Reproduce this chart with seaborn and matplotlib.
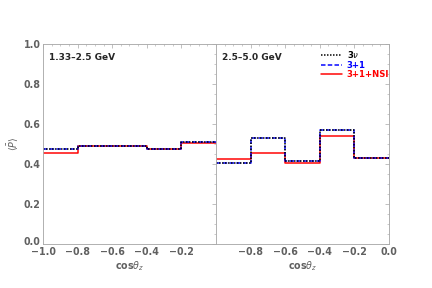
import numpy as np
import pandas as pd
import matplotlib
matplotlib.use("Agg")
import matplotlib.pyplot as plt
import matplotlib.transforms as mtransforms
import seaborn as sns
from matplotlib.ticker import MultipleLocator

edges = [-1.0, -0.8, -0.6, -0.4, -0.2, 0.0]
low_3nu = [0.475, 0.488, 0.488, 0.477, 0.512]
low_31 = [0.475, 0.488, 0.488, 0.477, 0.512]
low_nsi = [0.457, 0.490, 0.489, 0.474, 0.506]
high_3nu = [0.405, 0.528, 0.417, 0.572, 0.428]
high_31 = [0.405, 0.528, 0.417, 0.572, 0.428]
high_nsi = [0.423, 0.457, 0.403, 0.540, 0.428]
panel_titles = ["1.33\u20132.5 GeV", "2.5\u20135.0 GeV"]
series_names = ["3$\\nu$", "3+1", "3+1+NSI"]
yticks = [0.0, 0.2, 0.4, 0.6, 0.8, 1.0]
ytick_labels = ["0.0", "0.2", "0.4", "0.6", "0.8", "1.0"]
xticks_left = [-1.0, -0.8, -0.6, -0.4, -0.2]
xtick_labels_left = ["\u22121.0", "\u22120.8", "\u22120.6", "\u22120.4", "\u22120.2"]
xticks_right = [-0.8, -0.6, -0.4, -0.2, 0.0]
xtick_labels_right = ["\u22120.8", "\u22120.6", "\u22120.4", "\u22120.2", "0.0"]

sns.set_style("white")
plt.rcParams['font.family'] = ['DejaVu Sans']

fig = plt.figure(figsize=(6, 4), dpi=72)
ax1 = fig.add_axes([0.0995, 0.153, 0.4005, 0.694])
ax2 = fig.add_axes([0.5, 0.153, 0.4005, 0.694])

styles = {
    "3+1+NSI": dict(color="red", linestyle="-", lw=1.5),
    "3+1": dict(color="blue", linestyle=(0, (3, 1.5)), lw=1.5),
    "3$\\nu$": dict(color="black", linestyle=(0, (1, 1)), lw=1.5),
}
grey = "#606060"
for ax, data, title in [(ax1, (low_3nu, low_31, low_nsi), panel_titles[0]),
                        (ax2, (high_3nu, high_31, high_nsi), panel_titles[1])]:
    d = dict(zip(series_names, data))
    for name in ["3+1+NSI", "3+1", "3$\\nu$"]:
        vals = list(d[name]) + [d[name][-1]]
        df = pd.DataFrame({"x": edges, "y": vals})
        sns.lineplot(data=df, x="x", y="y", ax=ax, drawstyle="steps-post",
                     estimator=None, sort=False, label=name, **styles[name])
    ax.set_xlim(-1.0, 0.0)
    ax.set_ylim(0.0, 1.0)
    ax.text(0.035, 0.955, title, transform=ax.transAxes, fontsize=9,
            fontweight="bold", va="top", ha="left")
    ax.xaxis.set_minor_locator(MultipleLocator(0.05))
    ax.yaxis.set_minor_locator(MultipleLocator(0.05))
    ax.tick_params(which="both", direction="in", top=True, right=True,
                   colors="#999999", labelcolor=grey, labelsize=9.5)
    ax.tick_params(which="major", length=4, width=0.6)
    ax.tick_params(which="minor", length=2, width=0.5)
    ax.tick_params(axis="x", pad=3)
    ax.tick_params(axis="y", pad=2.5)
    for s in ax.spines.values():
        s.set_color("#aaaaaa")
        s.set_linewidth(0.9)
    ax.set_xlabel("cos$\\theta_z$", color=grey, fontsize=9.5, fontweight="bold", labelpad=2)
    ax.set_ylabel("")
    ax.set_yticks(yticks)

ax1.set_xticks(xticks_left)
ax1.set_xticklabels(xtick_labels_left, fontweight="bold")
ax2.set_xticks(xticks_right)
ax2.set_xticklabels(xtick_labels_right, fontweight="bold")
ax2.set_yticklabels([])
ax1.set_yticklabels(ytick_labels, fontweight="bold")
ax1.set_ylabel("$\\langle\\bar{P}\\rangle$", color=grey, fontsize=9.5, labelpad=3)

# nudge the bottom y label up slightly so it does not collide with the x label
lab0 = ax1.get_yticklabels()[0]
lab0.set_transform(lab0.get_transform() + mtransforms.ScaledTranslation(0, 3 / 72, fig.dpi_scale_trans))

ax1.get_legend().remove()
h, l = ax2.get_legend_handles_labels()
order = [l.index(n) for n in series_names]
leg = ax2.legend([h[i] for i in order], [l[i] for i in order], loc="upper right",
                 frameon=False, fontsize=8.5, handlelength=2.4, handletextpad=0.6,
                 borderaxespad=0.2, labelspacing=0.05, bbox_to_anchor=(1.03, 1.0))
for txt, c in zip(leg.get_texts(), ["black", "blue", "red"]):
    txt.set_color(c)
    txt.set_fontweight("bold")

fig.savefig("out.png", dpi=72)
